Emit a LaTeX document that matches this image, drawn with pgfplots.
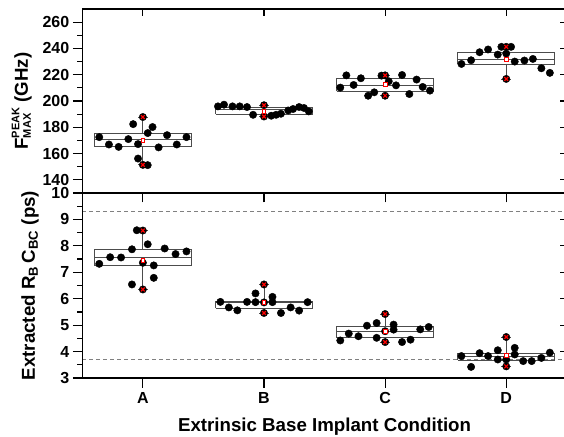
\documentclass[border=0pt]{standalone}
\usepackage{fontspec}
\setmainfont{Liberation Sans}
\usepackage{pgfplots}
\usepackage{pgfplotstable}
\pgfplotsset{compat=1.18}

\pgfplotstableread{
x y
-0.36 172.5
-0.28 166.9
-0.20 165.1
-0.12 171.0
-0.08 182.4
-0.04 167.2
-0.04 156.2
0.00 187.8
0.00 151.4
0.04 151.2
0.04 175.6
0.08 180.2
0.13 164.7
0.20 174.0
0.28 166.9
0.36 172.5
0.62 195.9
0.67 197.2
0.74 195.9
0.80 195.9
0.86 195.4
0.91 189.5
1.00 196.8
1.00 188.2
1.06 188.8
1.10 189.5
1.14 190.3
1.20 192.8
1.24 193.9
1.29 195.4
1.33 194.7
1.37 192.1
1.63 210.2
1.68 219.5
1.74 212.2
1.80 217.3
1.86 204.0
1.91 206.6
1.97 219.3
2.00 219.5
2.00 204.0
2.03 215.0
2.09 211.9
2.14 219.8
2.20 205.3
2.26 216.3
2.31 210.7
2.37 207.9
2.63 228.2
2.71 231.0
2.78 237.1
2.85 239.2
2.93 235.3
2.96 241.2
3.00 241.2
3.04 241.2
3.00 236.1
3.07 230.0
3.15 230.8
3.22 232.0
3.29 224.9
3.36 221.4
3.00 216.8
}\topdots

\pgfplotstableread{
x y
-0.36 7.32
-0.27 7.57
-0.18 7.56
-0.09 7.87
-0.05 8.59
0.00 8.58
-0.09 6.54
0.00 7.36
0.04 8.06
0.09 7.26
0.09 6.79
0.00 6.35
0.18 7.90
0.27 7.69
0.36 7.79
0.64 5.88
0.71 5.67
0.78 5.56
0.86 5.88
0.93 6.20
0.93 5.87
1.00 6.54
1.00 5.86
1.07 6.07
1.07 5.87
1.14 5.46
1.22 5.67
1.29 5.55
1.36 5.87
1.00 5.46
1.63 4.42
1.70 4.68
1.78 4.58
1.85 4.98
1.93 5.08
1.93 4.52
2.00 5.42
2.00 4.77
2.07 5.02
2.07 4.83
2.00 4.36
2.14 4.36
2.21 4.45
2.29 4.84
2.36 4.93
2.63 3.83
2.71 3.42
2.78 3.94
2.85 3.83
2.93 4.05
2.93 3.70
3.00 4.55
3.00 3.70
3.00 3.44
3.07 4.14
3.07 3.89
3.14 3.64
3.21 3.64
3.29 3.76
3.36 3.96
}\botdots

\pgfplotsset{
  common/.style={
    scale only axis, width=484.5pt,
    xmin=-0.5, xmax=3.5, xtick={0,1,2,3},
    /pgf/number format/assume math mode=true,
    tick label style={font=\bfseries\fontsize{16}{16}\selectfont},
    label style={font=\bfseries\fontsize{18.7}{18.7}\selectfont},
    axis line style={line width=1.5pt},
    major tick length=9.5pt, minor tick length=5pt,
    tick style={black, line width=1.2pt},
    minor y tick num=1,
    unbounded coords=jump,
  },
  main/.style={common, tick align=outside, xtick pos=lower, ytick pos=left},
  over/.style={common, tick align=inside, xtick pos=upper, ytick pos=right,
    xticklabels={}, yticklabels={}, major tick length=7pt, minor tick length=2.5pt},
  dots/.style={only marks, mark=*, mark size=3.7pt, black},
  xm/.style={only marks, mark=x, red, mark size=2.6pt, line width=1.2pt},
  mn/.style={only marks, mark=square*, mark options={fill=white, draw=red, line width=0.9pt}, mark size=1.9pt},
  bx/.style={draw=black!70, line width=0.8pt, no marks},
}

\begin{document}
\begin{tikzpicture}
\path[use as bounding box] (-82.3pt,-58pt) rectangle (481.7pt,378pt);

% bottom panel
\begin{axis}[main, at={(0,0)}, anchor=south west, height=185pt,
  ymin=3, ymax=10, ytick={3,4,...,10},
  xticklabels={A,B,C,D},
  x tick label style={yshift=-1pt},
  xlabel={Extrinsic Base Implant Condition},
  ylabel={Extracted R\textsubscript{B}\,C\textsubscript{BC} (ps)},
  ylabel style={at={(axis description cs:-0.108,0.5)}, anchor=center},
  xlabel style={yshift=-8pt},
]
\addplot[gray, dash pattern=on 4pt off 3pt, line width=0.8pt] coordinates {(-0.5,9.3) (3.5,9.3)};
\addplot[gray, dash pattern=on 4pt off 3pt, line width=0.8pt] coordinates {(-0.5,3.7) (3.5,3.7)};
\addplot[bx] coordinates {(-0.4,7.26)(0.4,7.26)(0.4,7.86)(-0.4,7.86)(-0.4,7.26) (0,nan) (-0.4,7.56)(0.4,7.56) (0,nan) (0,7.86)(0,8.58) (0,nan) (-0.04,8.58)(0.04,8.58) (0,nan) (0,7.26)(0,6.35) (0,nan) (-0.04,6.35)(0.04,6.35)};
\addplot[bx] coordinates {(0.6,5.65)(1.4,5.65)(1.4,5.91)(0.6,5.91)(0.6,5.65) (1,nan) (0.6,5.87)(1.4,5.87) (1,nan) (1,5.91)(1,6.54) (1,nan) (0.96,6.54)(1.04,6.54) (1,nan) (1,5.65)(1,5.46) (1,nan) (0.96,5.46)(1.04,5.46)};
\addplot[bx] coordinates {(1.6,4.52)(2.4,4.52)(2.4,4.97)(1.6,4.97)(1.6,4.52) (2,nan) (1.6,4.78)(2.4,4.78) (2,nan) (2,4.97)(2,5.42) (2,nan) (1.96,5.42)(2.04,5.42) (2,nan) (2,4.52)(2,4.36) (2,nan) (1.96,4.36)(2.04,4.36)};
\addplot[bx] coordinates {(2.6,3.68)(3.4,3.68)(3.4,3.93)(2.6,3.93)(2.6,3.68) (3,nan) (2.6,3.83)(3.4,3.83) (3,nan) (3,3.93)(3,4.55) (3,nan) (2.96,4.55)(3.04,4.55) (3,nan) (3,3.68)(3,3.44) (3,nan) (2.96,3.44)(3.04,3.44)};
\addplot[dots] table[x=x, y=y] {\botdots};
\addplot[xm] coordinates {(0,8.58) (0,6.35) (1,6.54) (1,5.46) (2,5.42) (2,4.36) (3,4.55) (3,3.44)};
\addplot[mn] coordinates {(0,7.45) (1,5.86) (2,4.77) (3,3.85)};
\end{axis}
\begin{axis}[over, at={(0,0)}, anchor=south west, height=185pt, ymin=3, ymax=10, ytick={3,4,...,10}]
\addplot[draw=none] coordinates {(0,5) (3,6)};
\end{axis}

% top panel
\begin{axis}[main, at={(0,185pt)}, anchor=south west, height=184pt,
  ymin=130, ymax=270, ytick={140,160,...,260},
  xticklabels={},
  ylabel={F\makebox[0pt][l]{\raisebox{-3pt}{\fontsize{11}{11}\selectfont MAX}}\raisebox{8.5pt}{\fontsize{11}{11}\selectfont PEAK} (GHz)},
  ylabel style={at={(axis description cs:-0.125,0.5)}, anchor=center},
]
\addplot[bx] coordinates {(-0.4,165.1)(0.4,165.1)(0.4,175.6)(-0.4,175.6)(-0.4,165.1) (0,nan) (-0.4,171.0)(0.4,171.0) (0,nan) (0,175.6)(0,187.8) (0,nan) (-0.04,187.8)(0.04,187.8) (0,nan) (0,165.1)(0,151.4) (0,nan) (-0.04,151.4)(0.04,151.4)};
\addplot[bx] coordinates {(0.6,190.0)(1.4,190.0)(1.4,195.4)(0.6,195.4)(0.6,190.0) (1,nan) (0.6,193.6)(1.4,193.6) (1,nan) (1,195.4)(1,196.8) (1,nan) (0.96,196.8)(1.04,196.8) (1,nan) (1,190.0)(1,188.2) (1,nan) (0.96,188.2)(1.04,188.2)};
\addplot[bx] coordinates {(1.6,207.3)(2.4,207.3)(2.4,217.0)(1.6,217.0)(1.6,207.3) (2,nan) (1.6,211.9)(2.4,211.9) (2,nan) (2,217.0)(2,219.5) (2,nan) (1.96,219.5)(2.04,219.5) (2,nan) (2,207.3)(2,204.0) (2,nan) (1.96,204.0)(2.04,204.0)};
\addplot[bx] coordinates {(2.6,228.2)(3.4,228.2)(3.4,237.1)(2.6,237.1)(2.6,228.2) (3,nan) (2.6,231.5)(3.4,231.5) (3,nan) (3,237.1)(3,241.2) (3,nan) (2.96,241.2)(3.04,241.2) (3,nan) (3,228.2)(3,216.8) (3,nan) (2.96,216.8)(3.04,216.8)};
\addplot[dots] table[x=x, y=y] {\topdots};
\addplot[xm] coordinates {(0,187.8) (0,151.4) (1,196.8) (1,188.2) (2,219.5) (2,204.0) (3,241.2) (3,216.8)};
\addplot[mn] coordinates {(0,170.2) (1,192.1) (2,212.4) (3,231.7)};
\end{axis}
\begin{axis}[over, at={(0,185pt)}, anchor=south west, height=184pt, ymin=130, ymax=270, ytick={140,160,...,260}]
\addplot[draw=none] coordinates {(0,200) (3,210)};
\end{axis}
\end{tikzpicture}
\end{document}
